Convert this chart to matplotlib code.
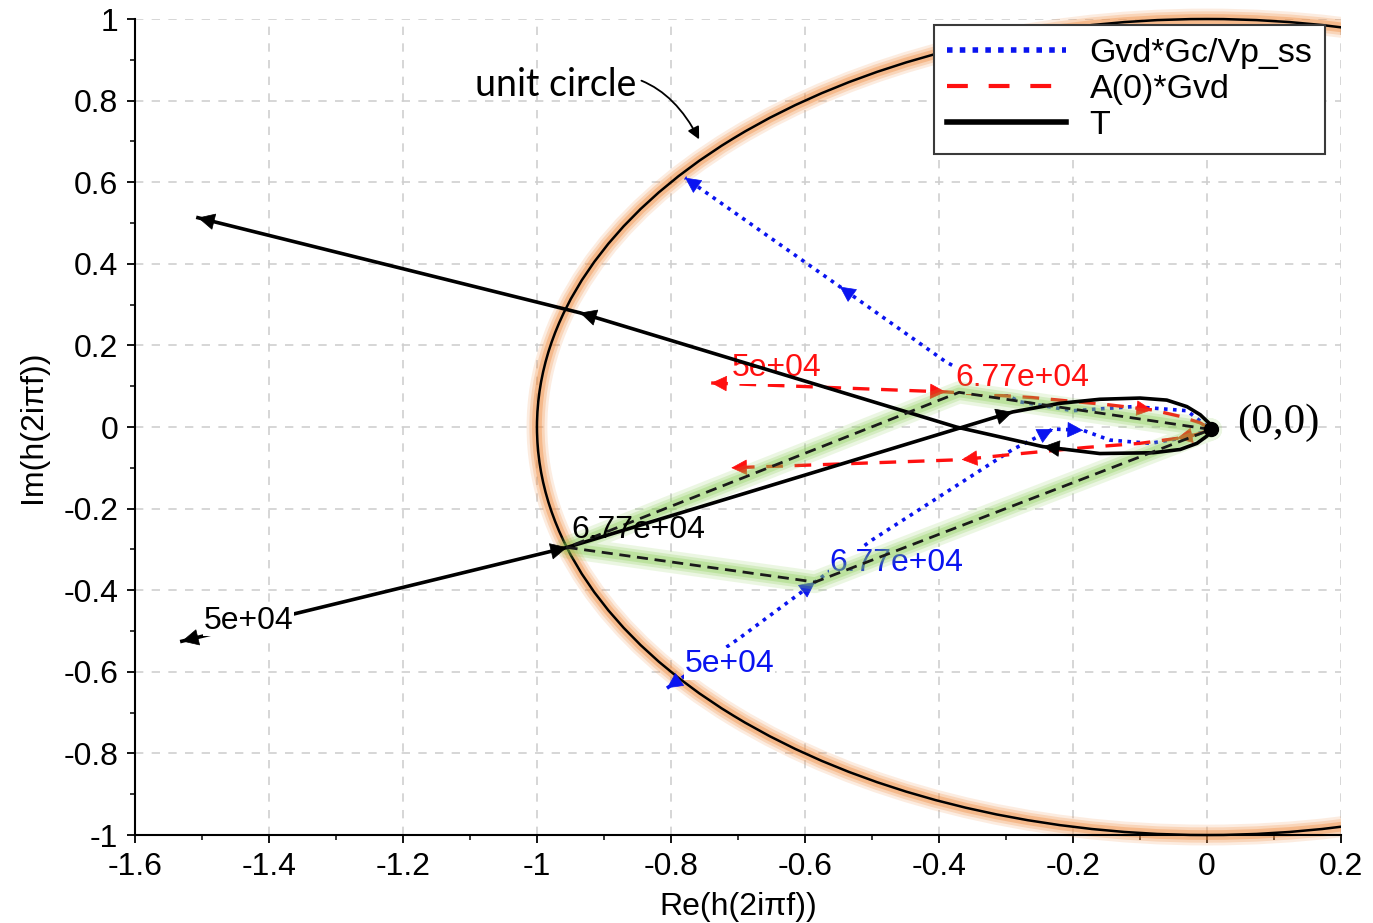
"""
nyquist_parallelogram.py - loop gain decomposition in the complex plane

Draws T = A(0)*Gvd + Gvd*Gc/Vp_ss near the crossover band, with the
unit circle and the vector sum at 6.77e+04 highlighted.
"""

import matplotlib.pyplot as plt
import numpy as np
from matplotlib.lines import Line2D
from matplotlib.patches import Circle, Rectangle
from matplotlib.ticker import FuncFormatter, MultipleLocator

plt.rcParams.update({
    "font.family": ["Liberation Sans", "DejaVu Sans"],
    "font.size": 23,
    "figure.facecolor": "white",
    "axes.spines.top": False,
    "axes.spines.right": False,
})

# T (loop gain)
t_re = [-1.53, -0.955, -0.29, -0.22, -0.16, -0.1, -0.06, -0.03, -0.01,
        0.004, 0.006, 0.0, -0.015, -0.04, -0.08, -0.16, -0.245, -0.374,
        -0.936, -1.506]
t_im = [-0.525, -0.295, 0.037, 0.058, 0.068, 0.071, 0.066, 0.05, 0.03,
        0.008, -0.006, -0.022, -0.04, -0.055, -0.063, -0.065, -0.048, 0.0,
        0.28, 0.513]
t_arrows = [1, 2, 16, 18, 19]

# A(0)*Gvd
a_re = [-0.74, -0.39, -0.26, -0.15, -0.082, -0.04, -0.01, 0.006, -0.015,
        -0.045, -0.1, -0.18, -0.284, -0.366, -0.71]
a_im = [0.108, 0.086, 0.072, 0.055, 0.042, 0.026, 0.01, -0.006, -0.018,
        -0.028, -0.04, -0.05, -0.066, -0.08, -0.1]
a_arrows = [1, 4, 9, 13, 14]

# Gvd*Gc/Vp_ss
g_re = [-0.806, -0.7, -0.585, -0.5, -0.29, -0.23, -0.185, -0.145, -0.085,
        -0.03, 0.006, -0.03, -0.11, -0.2, -0.28, -0.39, -0.548, -0.779]
g_im = [-0.64, -0.52, -0.38, -0.277, -0.055, -0.005, -0.008, -0.032, -0.04,
        -0.025, -0.006, 0.04, 0.05, 0.04, 0.062, 0.16, 0.344, 0.611]
g_arrows = [2, 5, 6, 16, 17]

# values at f = 6.77e+04 (T is the sum of the two others)
origin = (0.006, -0.006)
a_at_fc = (-0.37, 0.085)
g_at_fc = (-0.585, -0.38)

# frequency tags: (text, re, im)
a_tags = [("5e+04", -0.709, 0.145), ("6.77e+04", -0.376, 0.12)]
g_tags = [("6.77e+04", -0.563, -0.333), ("5e+04", -0.779, -0.581)]
t_tags = [("6.77e+04", -0.948, -0.252), ("5e+04", -1.497, -0.475)]

BLUE = "#0a14f0"
RED = "#ff1010"


def add_glow(ax, xs, ys, color, widths, alphas, zorder):
    """Stack wide translucent strokes under a path to fake a soft glow."""
    for w, al in zip(widths, alphas):
        ax.plot(xs, ys, color=color, lw=w, alpha=al,
                solid_capstyle="round", solid_joinstyle="round", zorder=zorder)


def add_arrows(ax, xs, ys, idx, color, zorder, size=26):
    """Arrowheads along a path; the first one points back out of the path."""
    pts = np.column_stack([xs, ys])
    heads = [(pts[0], pts[0] - pts[1])]
    heads += [(pts[i], pts[i] - pts[i - 1]) for i in idx]
    for tip, d in heads:
        tail = tip - 0.02 * d
        ax.annotate("", xy=tip, xytext=tail,
                    arrowprops=dict(arrowstyle="-|>", color=color, lw=0.5,
                                    mutation_scale=size, shrinkA=0, shrinkB=0),
                    zorder=zorder)


fig = plt.figure(figsize=(13.73, 9.23), dpi=100)
ax = fig.add_axes([0.0983, 0.0953, 0.8784, 0.8841])
ax.set_xlim(-1.6, 0.2)
ax.set_ylim(-1, 1)

# axes, ticks, grid
ax.xaxis.set_major_locator(MultipleLocator(0.2))
ax.xaxis.set_minor_locator(MultipleLocator(0.1))
ax.yaxis.set_major_locator(MultipleLocator(0.2))
ax.yaxis.set_minor_locator(MultipleLocator(0.1))
fmt = FuncFormatter(lambda v, _: "0" if abs(v) < 1e-9 else f"{v:g}")
ax.xaxis.set_major_formatter(fmt)
ax.yaxis.set_major_formatter(fmt)
ax.tick_params(which="major", direction="out", length=6, width=1.3, pad=6)
ax.tick_params(which="minor", direction="out", length=3.5, width=1.1)
for sp in ("left", "bottom"):
    ax.spines[sp].set_linewidth(1.5)
ax.grid(True, which="major", color="#cfcfcf", lw=1.2, ls=(0, (5, 5)), zorder=0.5)
ax.set_axisbelow(True)

ax.set_xlabel("Re(h(2iπf))")
ax.set_ylabel("Im(h(2iπf))")
ax.xaxis.set_label_coords(0.5, -0.07)
ax.yaxis.set_label_coords(-0.072, 0.5)

# unit circle with orange halo; clipped only left/right
clip = Rectangle((0, -0.05), 1, 1.1, transform=ax.transAxes, visible=False)
ax.add_patch(clip)
for w, al in [(15, 0.16), (11, 0.24), (7, 0.38)]:
    halo = Circle((0, 0), 1, fill=False, ec="#f08c40", lw=w, alpha=al, zorder=1)
    ax.add_patch(halo)
    halo.set_clip_path(clip)
ring = Circle((0, 0), 1, fill=False, ec="black", lw=1.8, zorder=1.2)
ax.add_patch(ring)
ring.set_clip_path(clip)

# the three frequency responses
ax.plot(g_re, g_im, color=BLUE, lw=2.6, ls=(0, (1, 1.5)), zorder=2)
add_arrows(ax, g_re, g_im, g_arrows, BLUE, 2.05)
ax.plot(a_re, a_im, color=RED, lw=2.4, ls=(0, (5, 3.5)), zorder=2.2)
add_arrows(ax, a_re, a_im, a_arrows, RED, 2.25)

for text, x, y in a_tags:
    ax.text(x, y, text, color=RED, ha="left", va="center", zorder=2.5,
            bbox=dict(fc="white", ec="none", pad=0.5))
for text, x, y in g_tags:
    ax.text(x, y, text, color=BLUE, ha="left", va="center", zorder=2.6,
            bbox=dict(fc="white", ec="none", pad=0.5))

# vector sum at crossover: O -> A -> T -> G -> O
t_at_fc = (a_at_fc[0] + g_at_fc[0], a_at_fc[1] + g_at_fc[1])
par = [origin, a_at_fc, t_at_fc, g_at_fc, origin]
par_re = [p[0] for p in par]
par_im = [p[1] for p in par]
add_glow(ax, par_re, par_im, "#86cc50", [16, 11, 7], [0.16, 0.22, 0.3], 3)

ax.plot(t_re, t_im, color="black", lw=2.6, zorder=3.5,
        solid_joinstyle="round")
add_arrows(ax, t_re, t_im, t_arrows, "black", 3.55, size=28)
ax.plot(par_re, par_im, color="#1a1a1a", lw=2.0, ls=(0, (4, 2.4)), zorder=3.8)

ax.text(*t_tags[0][1:], t_tags[0][0], color="black", ha="left", va="center",
        zorder=4)
ax.text(*t_tags[1][1:], t_tags[1][0], color="black", ha="left", va="center",
        zorder=4, bbox=dict(fc="white", ec="none", pad=0.5))

ax.plot(*origin, "o", color="black", ms=10, zorder=5)
ax.text(0.045, 0.01, "(0,0)", family="Liberation Serif", fontsize=31,
        ha="left", va="center", zorder=5)

ax.annotate("unit circle", xy=(-0.758, 0.705), xytext=(-1.093, 0.838),
            fontsize=27, family="Lato", ha="left", va="center",
            arrowprops=dict(arrowstyle="-|>", color="black", lw=1.3,
                            mutation_scale=18, shrinkA=2, shrinkB=0,
                            connectionstyle="arc3,rad=-0.45"),
            zorder=5)

handles = [
    Line2D([], [], color=BLUE, lw=4, ls=(0, (1, 1.3))),
    Line2D([], [], color=RED, lw=3, ls=(0, (5, 5))),
    Line2D([], [], color="black", lw=4),
]
leg = ax.legend(handles, ["Gvd*Gc/Vp_ss", "A(0)*Gvd", "T"],
                loc="upper right", bbox_to_anchor=(0.987, 0.993),
                borderaxespad=0, fancybox=False, framealpha=1,
                edgecolor="#3a3a3a", handlelength=3.5, handletextpad=0.7,
                labelspacing=0.15, borderpad=0.38, fontsize=24.5)
leg.get_frame().set_linewidth(1.5)
leg.set_zorder(10)

fig.savefig("out.png", dpi=100, facecolor="white")
